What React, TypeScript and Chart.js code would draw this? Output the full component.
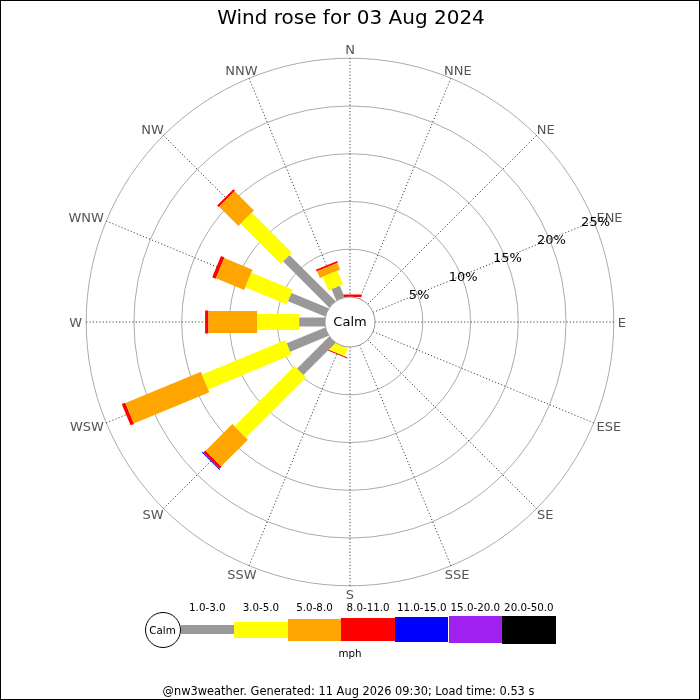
import { useEffect, useRef } from 'react'
import { Chart, registerables } from 'chart.js'
Chart.register(...registerables)

Chart.defaults.font.family = '"DejaVu Sans", sans-serif'

const TITLE = 'Wind rose for 03 Aug 2024'
const FOOTER = '@nw3weather. Generated: 11 Aug 2026 09:30; Load time: 0.53 s'
const UNITS = 'mph'

const DIRECTIONS = ['N', 'NNE', 'NE', 'ENE', 'E', 'ESE', 'SE', 'SSE', 'S', 'SSW', 'SW', 'WSW', 'W', 'WNW', 'NW', 'NNW']
const SPEED_BANDS = ['1.0-3.0', '3.0-5.0', '5.0-8.0', '8.0-11.0', '11.0-15.0', '15.0-20.0', '20.0-50.0']
const BAND_COLORS = ['#999999', '#ffff00', '#ffa500', '#ff0000', '#0000ff', '#a020f0', '#000000']
const BAND_WIDTHS = [9, 16, 22, 23, 25, 27, 28]

// % of the day per direction (N, NNE, ... NNW), one list per speed band
const FREQ_1_3   = [0, 0, 0, 0, 0, 0, 0, 0, 0, 0, 4.75, 4.35, 2.7, 4.2, 6.8, 1.3]
const FREQ_3_5   = [0, 0, 0, 0, 0, 0, 0, 0, 0, 0.9, 8.9, 9.45, 4.4, 4.7, 5.95, 1.55]
const FREQ_5_8   = [0, 0, 0, 0, 0, 0, 0, 0, 0, 0, 3.95, 8.55, 5.1, 3.2, 2.85, 0.75]
const FREQ_8_11  = [0.25, 0, 0, 0, 0, 0, 0, 0, 0, 0.12, 0.3, 0.4, 0.35, 0.4, 0.25, 0.2]
const FREQ_11_15 = [0, 0, 0, 0, 0, 0, 0, 0, 0, 0, 0.1, 0, 0, 0, 0, 0]
const FREQ_15_20 = [0, 0, 0, 0, 0, 0, 0, 0, 0, 0, 0, 0, 0, 0, 0, 0]
const FREQ_20_50 = [0, 0, 0, 0, 0, 0, 0, 0, 0, 0, 0, 0, 0, 0, 0, 0]
const BANDS = [FREQ_1_3, FREQ_3_5, FREQ_5_8, FREQ_8_11, FREQ_11_15, FREQ_15_20, FREQ_20_50]

const RING_TICKS = [5, 10, 15, 20, 25]
const LABEL_BEARING = 67.5

// geometry, in % units
const HOLE = 2.62   // radius of the calm circle
const VIEW = 31.41  // half width of the plot area

const rad = (deg: number) => deg * Math.PI / 180

const roseDecor = {
  id: 'roseDecor',
  beforeDatasetsDraw(chart: any) {
    const { ctx, scales: { x, y } } = chart
    const cx = x.getPixelForValue(0), cy = y.getPixelForValue(0)
    const unit = x.getPixelForValue(1) - cx
    const r0 = HOLE * unit
    const rMax = (HOLE + RING_TICKS[RING_TICKS.length - 1]) * unit
    ctx.save()
    ctx.lineWidth = 1
    ctx.strokeStyle = '#aaaaaa'
    RING_TICKS.forEach(t => {
      ctx.beginPath(); ctx.arc(cx, cy, (HOLE + t) * unit, 0, Math.PI * 2); ctx.stroke()
    })
    ctx.strokeStyle = '#444'
    ctx.setLineDash([1.2, 2.1])
    DIRECTIONS.forEach((_, i) => {
      const a = rad(i * 22.5)
      ctx.beginPath()
      ctx.moveTo(cx + r0 * Math.sin(a), cy - r0 * Math.cos(a))
      ctx.lineTo(cx + rMax * Math.sin(a), cy - rMax * Math.cos(a))
      ctx.stroke()
    })
    ctx.setLineDash([])
    ctx.font = '13px "DejaVu Sans"'
    ctx.textAlign = 'center'; ctx.textBaseline = 'alphabetic'
    const capH = 9.5
    ctx.fillStyle = '#555'
    DIRECTIONS.forEach((d, i) => {
      const a = rad(i * 22.5), r = rMax + 4
      const w = ctx.measureText(d).width
      const px = cx + r * Math.sin(a) + Math.sin(a) * w / 2
      const py = cy - r * Math.cos(a) - Math.cos(a) * capH / 2
      ctx.fillText(d, px, py + capH / 2)
    })
    ctx.fillStyle = '#000'
    const b = rad(LABEL_BEARING)
    RING_TICKS.forEach(t => {
      const r = (HOLE + t) * unit + 2
      ctx.fillText(t + '%', cx + r * Math.sin(b), cy - r * Math.cos(b) + capH / 2 + 0.8)
    })
    ctx.restore()
  },
  afterDatasetsDraw(chart: any) {
    const { ctx, scales: { x, y } } = chart
    const cx = x.getPixelForValue(0), cy = y.getPixelForValue(0)
    const unit = x.getPixelForValue(1) - cx
    ctx.save()
    ctx.beginPath(); ctx.arc(cx, cy, HOLE * unit, 0, Math.PI * 2)
    ctx.fillStyle = '#fff'; ctx.fill()
    ctx.strokeStyle = '#999'; ctx.lineWidth = 1; ctx.stroke()
    ctx.fillStyle = '#000'
    ctx.font = '13px "DejaVu Sans"'
    ctx.textAlign = 'center'; ctx.textBaseline = 'middle'
    ctx.fillText('Calm', cx, cy + 0.5)
    ctx.restore()
  },
}

const LEG_X0 = 180.5, LEG_W = 53.6, LEG_Y = 629.5

export default function App() {
  const ref = useRef<HTMLCanvasElement>(null)

  useEffect(() => {
    if (!ref.current) return
    const datasets = BANDS.map((vals, b) => ({
      label: SPEED_BANDS[b],
      data: DIRECTIONS.flatMap((_, i) => {
        if (vals[i] <= 0) return []
        const start = HOLE + BANDS.slice(0, b).reduce((s, arr) => s + arr[i], 0)
        const end = start + vals[i]
        const a = rad(i * 22.5)
        return [
          { x: start * Math.sin(a), y: start * Math.cos(a) },
          { x: end * Math.sin(a), y: end * Math.cos(a) },
          { x: NaN, y: NaN },
        ]
      }),
      showLine: true, spanGaps: false,
      borderColor: BAND_COLORS[b], borderWidth: BAND_WIDTHS[b], borderCapStyle: 'butt' as const,
      pointRadius: 0, pointHoverRadius: 0,
    }))
    const chart = new Chart(ref.current, {
      type: 'scatter',
      data: { datasets },
      options: {
        animation: false, responsive: true, maintainAspectRatio: false, events: [],
        layout: { padding: { left: 50, right: 50, top: 22, bottom: 78 } },
        plugins: { legend: { display: false }, tooltip: { enabled: false }, title: { display: false } },
        scales: {
          x: { type: 'linear', min: -VIEW, max: VIEW, bounds: 'data', display: false },
          y: { type: 'linear', min: -VIEW, max: VIEW, bounds: 'data', display: false },
        },
      },
      plugins: [roseDecor],
    })
    return () => chart.destroy()
  }, [])

  return (
    <div style={{ position: 'fixed', left: 0, top: 0, width: 700, height: 700, background: '#fff', overflow: 'hidden', fontFamily: '"DejaVu Sans", sans-serif', color: '#000' }}>
      <div style={{ position: 'absolute', left: 0, top: 0, width: 700, height: 700 }}><canvas ref={ref} /></div>
      <div style={{ position: 'absolute', left: 0, top: 7, width: 702, textAlign: 'center', fontSize: 20, lineHeight: 1 }}>{TITLE}</div>

      <div style={{ position: 'absolute', left: LEG_X0 - 36, top: LEG_Y - 17.5, width: 36, height: 36, border: '1px solid #000', borderRadius: '50%', boxSizing: 'border-box', display: 'flex', alignItems: 'center', justifyContent: 'center', fontSize: 10.3, lineHeight: 1 }}>Calm</div>
      {SPEED_BANDS.map((lab, i) => (
        <div key={lab}>
          <div style={{ position: 'absolute', left: LEG_X0 + i * LEG_W, top: LEG_Y - BAND_WIDTHS[i] / 2, width: LEG_W, height: BAND_WIDTHS[i], background: BAND_COLORS[i] }} />
          <div style={{ position: 'absolute', left: LEG_X0 + (i + 0.5) * LEG_W - 40, top: 601.8, width: 80, textAlign: 'center', fontSize: 10.3, lineHeight: 1 }}>{lab}</div>
        </div>
      ))}
      <div style={{ position: 'absolute', left: 300, top: 648.3, width: 100, textAlign: 'center', fontSize: 10.3, lineHeight: 1 }}>{UNITS}</div>
      <div style={{ position: 'absolute', left: 0, top: 686, width: 697, textAlign: 'center', fontSize: 11.4, lineHeight: 1 }}>{FOOTER}</div>

      <div style={{ position: 'absolute', left: 0, top: 0, width: 700, height: 700, border: '1px solid #000', boxSizing: 'border-box', pointerEvents: 'none' }} />
    </div>
  )
}
